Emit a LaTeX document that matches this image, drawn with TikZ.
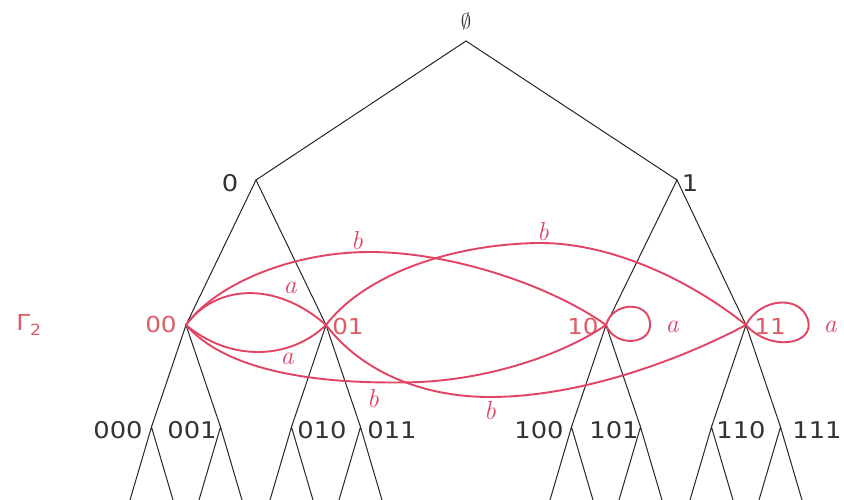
\documentclass[tikz,border=0pt]{standalone}
\usepackage{fontspec}
\newfontfamily\labfont[FakeStretch=1.12]{DejaVu Sans}
\definecolor{gred}{RGB}{226,68,100}
\definecolor{gredtxt}{RGB}{222,92,100}
\begin{document}
\begin{tikzpicture}[x=1pt,y=-1pt,
  treeline/.style={draw=black!85,line width=1pt},
  gedge/.style={draw=gred,line width=1.9pt},
  lab/.style={font=\labfont\fontsize{23}{23}\selectfont,text=black!80,inner sep=0pt},
  rlab/.style={font=\labfont\fontsize{22}{22}\selectfont,text=gredtxt,inner sep=0pt},
  hand/.style={font=\itshape\fontsize{26}{26}\selectfont,text=gred,inner sep=0pt}]
\useasboundingbox (0,0) rectangle (844,500);
\fill[white] (0,0) rectangle (844,500);
% tree vertices
\coordinate (R) at (466,41);
\coordinate (n0) at (256,180);
\coordinate (n1) at (677,180);
\coordinate (n00) at (186,325);
\coordinate (n01) at (326,325);
\coordinate (n10) at (606,325);
\coordinate (n11) at (746,325);
\foreach \p/\x in {000/151.5,001/220.5,010/291.5,011/360.5,100/571.5,101/640.5,110/711.5,111/780.5}{
  \coordinate (n\p) at (\x,427);
  \coordinate (n\p L) at (\x-21.5,500);
  \coordinate (n\p R) at (\x+21.5,500);
}
% tree edges
\draw[treeline] (n0) -- (R) -- (n1);
\draw[treeline] (n00) -- (n0) -- (n01);
\draw[treeline] (n10) -- (n1) -- (n11);
\draw[treeline] (n000) -- (n00) -- (n001);
\draw[treeline] (n010) -- (n01) -- (n011);
\draw[treeline] (n100) -- (n10) -- (n101);
\draw[treeline] (n110) -- (n11) -- (n111);
\foreach \p in {000,001,010,011,100,101,110,111}{
  \draw[treeline] (n\p L) -- (n\p) -- (n\p R);
}
% tree labels
\node[font=\fontsize{22}{22}\selectfont,text=black!80,inner sep=0pt] (lR) at (466,21) {$\emptyset$};
\node[lab] (l0) at (230,183) {0};
\node[lab] (l1) at (690,183) {1};
\node[lab] (l000) at (118,430) {000};
\node[lab] (l001) at (192,430) {001};
\node[lab] (l010) at (322,430) {010};
\node[lab] (l011) at (392,430) {011};
\node[lab] (l100) at (539,430) {100};
\node[lab] (l101) at (614,430) {101};
\node[lab] (l110) at (741,430) {110};
\node[lab] (l111) at (817,430) {111};
% graph Gamma_2 labels
\node[rlab] (lG) at (29,325) {Γ\textsubscript{2}};
\node[rlab] (l00) at (161,324) {00};
\node[rlab] (l01) at (348,326) {01};
\node[rlab] (l10) at (583,326) {10};
\node[rlab] (l11) at (770,326) {11};
% red edges
\draw[gedge] (n00) .. controls (215,285) and (275,280) .. (n01);
\draw[gedge] (n00) .. controls (230,362) and (290,360) .. (n01);
\draw[gedge] (n00) .. controls (215,285) and (290,252) .. (370,252) .. controls (450,252) and (550,285) .. (n10);
\draw[gedge] (n01) .. controls (360,280) and (440,245) .. (537,243) .. controls (610,242) and (690,280) .. (n11);
\draw[gedge] (n00) .. controls (230,375) and (330,385) .. (420,382) .. controls (500,378) and (570,350) .. (n10);
\draw[gedge] (n01) .. controls (360,370) and (420,397) .. (490,397) .. controls (580,397) and (680,360) .. (n11);
\draw[gedge] (n10) .. controls (612,302) and (648,300) .. (650,323) .. controls (652,345) and (615,348) .. (n10);
\draw[gedge] (n11) .. controls (760,298) and (800,294) .. (808,320) .. controls (815,345) and (770,352) .. (n11);
% edge labels
\node[hand] (ea1) at (290,288) {a};
\node[hand] (ea2) at (287,359) {a};
\node[hand] (eb1) at (357,241) {b};
\node[hand] (eb2) at (543,232) {b};
\node[hand] (eb3) at (373,399) {b};
\node[hand] (eb4) at (490,411) {b};
\node[hand] (ea3) at (672,327) {a};
\node[hand] (ea4) at (830,327) {a};
\end{tikzpicture}
\end{document}
